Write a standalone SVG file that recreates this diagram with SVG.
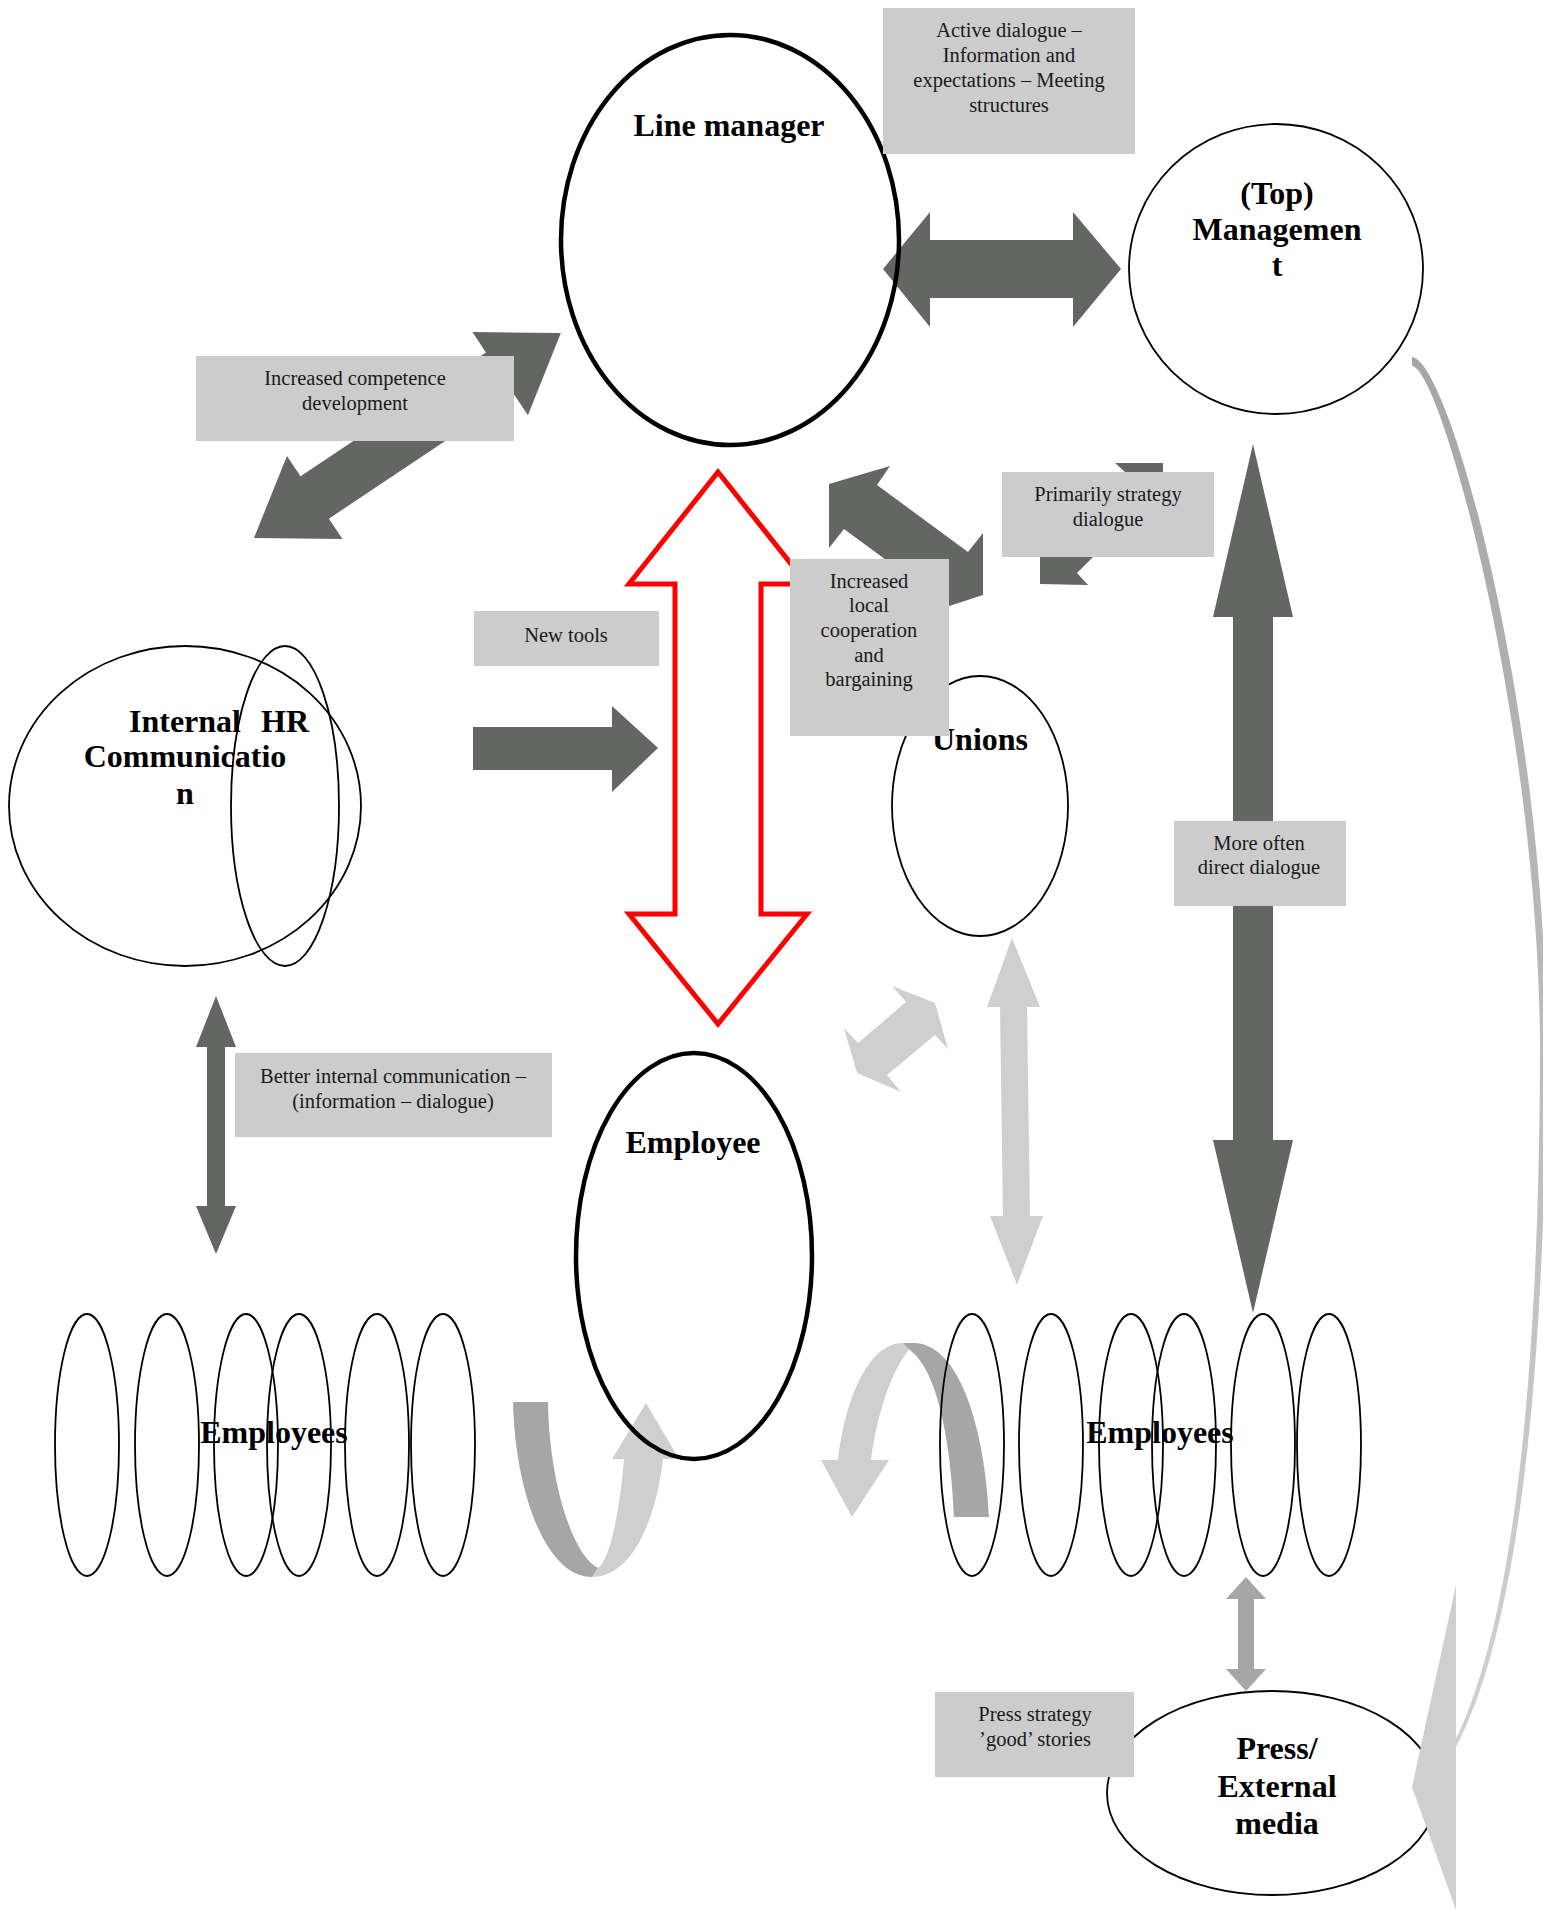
<svg xmlns="http://www.w3.org/2000/svg" width="1543" height="1910" viewBox="0 0 1543 1910">
<defs>
<style>
.box{fill:#cccccc}
.lbl{font-family:"Liberation Serif","Times New Roman",serif;font-size:20.5px;fill:#1a1a1a;text-anchor:middle}
.node{font-family:"Liberation Serif","Times New Roman",serif;font-weight:bold;font-size:32px;fill:#000;text-anchor:middle}
.thin{fill:none;stroke:#000;stroke-width:1.8}
.thick{fill:none;stroke:#000;stroke-width:4.5}
.dark{fill:#646663}
.light{fill:#cfcfcf}
.mid{fill:#a6a6a6}
.red{fill:#fff;stroke:#ff0000;stroke-width:5;stroke-linejoin:miter}
</style>
<linearGradient id="cg" x1="0" y1="360" x2="0" y2="1750" gradientUnits="userSpaceOnUse">
<stop offset="0" stop-color="#a6a6a6"/>
<stop offset="0.5" stop-color="#bcbcbc"/>
<stop offset="1" stop-color="#d0d0d0"/>
</linearGradient>
</defs>
<rect width="1543" height="1910" fill="#fff"/>

<g id="connectors">
<polygon class="dark" points="883,269 930,212 930,240 1073,240 1073,212 1121,269 1073,327 1073,298 930,298 930,327"/>
<polygon class="dark" transform="translate(254,538) rotate(-33.74)" points="0,0 73,-50 73,-25.5 296,-25.5 296,-50 369,0 296,50 296,25.5 73,25.5 73,50"/>
<polygon class="dark" points="829,484 890,466 877,485 968,552 983,533 983,595 940,609 935,596 844,529 829,548"/>
<polygon class="dark" points="1115,463 1163,463 1163,520 1093,557 1077,573 1088,585 1040,584 1040,530 1125,472"/>
<polygon class="dark" points="1253,444 1293,617 1273,617 1273,1140 1293,1140 1253,1313 1213,1140 1233,1140 1233,617 1213,617"/>
<polygon class="dark" points="473,727 612,727 612,706 658,748 612,792 612,770 473,770"/>
<polygon class="dark" points="216,996 236,1047 225,1047 225,1206 236,1206 216,1254 196,1206 207,1206 207,1047 196,1047"/>
<polygon class="red" points="718,472 807,584 761,584 761,914 807,914 718,1024 629,914 675,914 675,584 629,584"/>
<polygon class="light" points="1012,938 1040,1007 1027,1007 1030,1216 1043,1216 1017,1285 990,1216 1003,1216 1000,1007 987,1007"/>
<polygon class="light" points="844,1028 858,1043 906,1002 892,986 935,1003 948,1049 935,1035 887,1075 901,1092 857,1073"/>
<polygon class="mid" points="1246,1577 1266,1599 1254,1599 1254,1669 1266,1669 1246,1691 1226,1669 1238,1669 1238,1599 1226,1599"/>
<path class="mid" d="M513,1402 L548,1402 C549,1480 572,1555 598,1568 L592,1577 C545,1577 515,1490 513,1402 Z"/>
<path class="light" d="M592,1577 C632,1577 656,1520 663,1459 L679,1459 L646,1403 L612,1459 L624,1459 C620,1510 610,1560 598,1568 Z"/>
<path class="light" d="M838,1460 C845,1400 868,1343 903,1343 L915,1344 C897,1358 878,1405 871,1460 L889,1460 L852,1517 L821,1460 Z"/>
<path class="mid" d="M903,1343 L915,1343 C960,1345 985,1430 989,1517 L954,1517 C951,1440 937,1372 912,1352 Z"/>
<path fill="url(#cg)" d="M1412,357 C1450,360 1546,716 1546,1040 C1546,1352 1522,1622 1456,1747 L1454,1743 C1517,1618 1540,1350 1540,1040 C1537,722 1442,369 1412,366 Z"/>
</g>

<g id="line-manager">
<ellipse class="thick" cx="730" cy="240" rx="169" ry="205"/>
<text class="node" x="729" y="136">Line manager</text>
</g>
<g id="top-management">
<ellipse class="thin" cx="1276" cy="269" rx="147" ry="145"/>
<text class="node" x="1277" y="204">(Top)</text>
<text class="node" x="1277" y="240">Managemen</text>
<text class="node" x="1277" y="276">t</text>
</g>
<g id="internal-communication">
<ellipse class="thin" cx="185" cy="806" rx="176" ry="160"/>
<text class="node" x="185" y="732">Internal</text>
<text class="node" x="185" y="767">Communicatio</text>
<text class="node" x="185" y="804">n</text>
</g>
<g id="hr">
<ellipse class="thin" cx="285" cy="806" rx="54" ry="160"/>
<text class="node" x="285" y="732">HR</text>
</g>
<g id="unions">
<ellipse class="thin" cx="980" cy="806" rx="88" ry="130"/>
<text class="node" x="980" y="750">Unions</text>
</g>
<g id="employee">
<ellipse class="thick" cx="694" cy="1256" rx="118" ry="203"/>
<text class="node" x="693" y="1153">Employee</text>
</g>
<g id="employees-left">
<ellipse class="thin" cx="87" cy="1445" rx="32" ry="131"/>
<ellipse class="thin" cx="167" cy="1445" rx="32" ry="131"/>
<ellipse class="thin" cx="246" cy="1445" rx="32" ry="131"/>
<ellipse class="thin" cx="299" cy="1445" rx="32" ry="131"/>
<ellipse class="thin" cx="377" cy="1445" rx="32" ry="131"/>
<ellipse class="thin" cx="443" cy="1445" rx="32" ry="131"/>
<text class="node" x="274" y="1443">Employees</text>
</g>
<g id="employees-right">
<ellipse class="thin" cx="972" cy="1445" rx="32" ry="131"/>
<ellipse class="thin" cx="1051" cy="1445" rx="32" ry="131"/>
<ellipse class="thin" cx="1131" cy="1445" rx="32" ry="131"/>
<ellipse class="thin" cx="1184" cy="1445" rx="32" ry="131"/>
<ellipse class="thin" cx="1263" cy="1445" rx="32" ry="131"/>
<ellipse class="thin" cx="1329" cy="1445" rx="32" ry="131"/>
<text class="node" x="1160" y="1443">Employees</text>
</g>
<g id="press">
<ellipse class="thin" cx="1272" cy="1793" rx="165" ry="102"/>
<text class="node" x="1277" y="1759">Press/</text>
<text class="node" x="1277" y="1797">External</text>
<text class="node" x="1277" y="1834">media</text>
</g>
<polygon class="light" points="1456,1585 1412,1787 1456,1910"/>

<g id="label-active">
<rect class="box" x="883" y="8" width="252" height="146"/>
<text class="lbl" x="1009" y="37">Active dialogue –</text>
<text class="lbl" x="1009" y="62">Information and</text>
<text class="lbl" x="1009" y="87">expectations – Meeting</text>
<text class="lbl" x="1009" y="112">structures</text>
</g>
<g id="label-competence">
<rect class="box" x="196" y="356" width="318" height="85"/>
<text class="lbl" x="355" y="385">Increased competence</text>
<text class="lbl" x="355" y="410">development</text>
</g>
<g id="label-newtools">
<rect class="box" x="474" y="611" width="185" height="55"/>
<text class="lbl" x="566" y="642">New tools</text>
</g>
<g id="label-local">
<rect class="box" x="790" y="559" width="159" height="177"/>
<text class="lbl" x="869" y="588">Increased</text>
<text class="lbl" x="869" y="612">local</text>
<text class="lbl" x="869" y="637">cooperation</text>
<text class="lbl" x="869" y="662">and</text>
<text class="lbl" x="869" y="686">bargaining</text>
</g>
<g id="label-strategy">
<rect class="box" x="1002" y="472" width="212" height="85"/>
<text class="lbl" x="1108" y="501">Primarily strategy</text>
<text class="lbl" x="1108" y="526">dialogue</text>
</g>
<g id="label-direct">
<rect class="box" x="1174" y="821" width="172" height="85"/>
<text class="lbl" x="1259" y="850">More often</text>
<text class="lbl" x="1259" y="874">direct dialogue</text>
</g>
<g id="label-internal">
<rect class="box" x="235" y="1053" width="317" height="84"/>
<text class="lbl" x="393" y="1083">Better internal communication –</text>
<text class="lbl" x="393" y="1108">(information – dialogue)</text>
</g>
<g id="label-press">
<rect class="box" x="935" y="1692" width="199" height="85"/>
<text class="lbl" x="1035" y="1721">Press strategy</text>
<text class="lbl" x="1035" y="1746">’good’ stories</text>
</g>
</svg>
